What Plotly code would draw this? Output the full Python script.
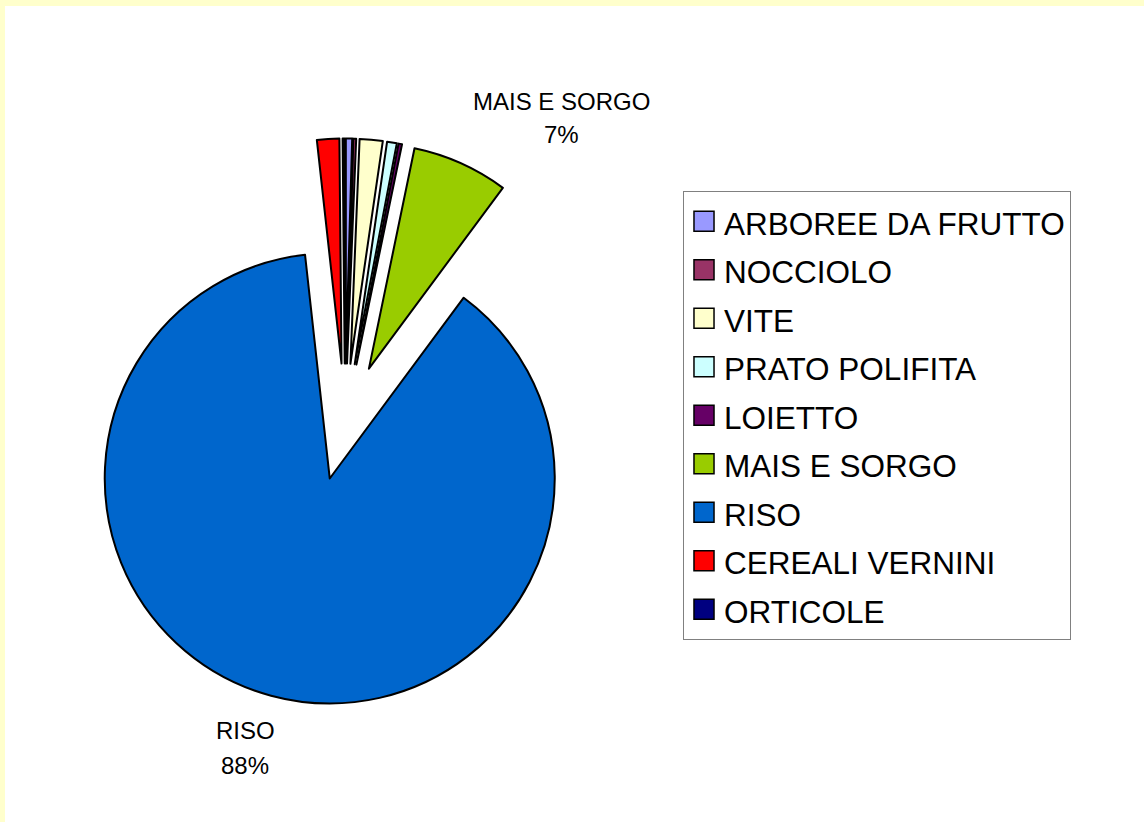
import plotly.graph_objects as go

# ---- data ----
labels = ["ARBOREE DA FRUTTO", "NOCCIOLO", "VITE", "PRATO POLIFITA", "LOIETTO",
          "MAIS E SORGO", "RISO", "CEREALI VERNINI", "ORTICOLE"]
values = [0.45, 0.2, 1.65, 0.7, 0.25, 6.9, 88.1, 1.6, 0.15]
colors = ["#9999FF", "#993366", "#FFFFCC", "#CCFFFF", "#660066",
          "#99CC00", "#0066CC", "#FF0000", "#000080"]
labelled = ["MAIS E SORGO", "RISO"]

W, H = 1144, 822
FONT = "Liberation Sans, Arial, sans-serif"

total = sum(values)
pct = {l: round(100 * v / total) for l, v in zip(labels, values)}

fig = go.Figure()
fig.add_trace(go.Pie(
    labels=[f'<span style="font-size:31.5px">{l}</span>' for l in labels],
    values=values,
    sort=False,
    direction="clockwise",
    rotation=0,
    pull=[0.26] * len(values),
    marker=dict(colors=colors, line=dict(color="#000000", width=2)),
    textinfo="none",
    hoverinfo="label+percent",
    domain=dict(x=[61.5 / W, 628.5 / W], y=[116.5 / H, 683.5 / H]),
))

# data labels
label_pos = {"MAIS E SORGO": (561, 101, 135), "RISO": (245, 730, 765)}
annotations = []
for l in labelled:
    x, y1, y2 = label_pos[l]
    annotations.append(dict(x=x / W, y=1 - y1 / H, xref="paper", yref="paper",
                            text=l, showarrow=False, xanchor="center", yanchor="middle",
                            font=dict(family=FONT, size=24, color="#000000")))
    annotations.append(dict(x=x / W, y=1 - y2 / H, xref="paper", yref="paper",
                            text=f"{pct[l]}%", showarrow=False, xanchor="center", yanchor="middle",
                            font=dict(family=FONT, size=24, color="#000000")))

fig.update_layout(
    width=W, height=H,
    margin=dict(l=0, r=0, t=0, b=0),
    paper_bgcolor="#FFFFFF",
    plot_bgcolor="#FFFFFF",
    font=dict(family=FONT, color="#000000"),
    showlegend=True,
    legend=dict(
        x=683 / W, y=1 - 191 / H, xanchor="left", yanchor="top",
        bgcolor="#FFFFFF", bordercolor="#808080", borderwidth=1,
        font=dict(family=FONT, size=35, color="#000000"),
        traceorder="normal",
    ),
    annotations=annotations,
    shapes=[
        dict(type="rect", xref="paper", yref="paper", x0=0, x1=1, y0=1 - 6 / H, y1=1,
             fillcolor="#FFFFCC", line=dict(width=0), layer="below"),
        dict(type="rect", xref="paper", yref="paper", x0=0, x1=5 / W, y0=0, y1=1,
             fillcolor="#FFFFCC", line=dict(width=0), layer="below"),
    ],
)

post_js = """
document.body.style.margin='0';
document.body.style.padding='0';
document.documentElement.style.overflow='hidden';
var gd = document.getElementById('{plot_id}');
gd.querySelectorAll('.legendpoints path').forEach(function(p){
  var t = p.getAttribute('transform') || '';
  p.setAttribute('transform', t + ' scale(1.67)');
  p.style.vectorEffect = 'non-scaling-stroke';
  p.style.strokeWidth = '1.5px';
});
"""

fig.write_html("out.html", post_script=post_js, config={"displayModeBar": False})
